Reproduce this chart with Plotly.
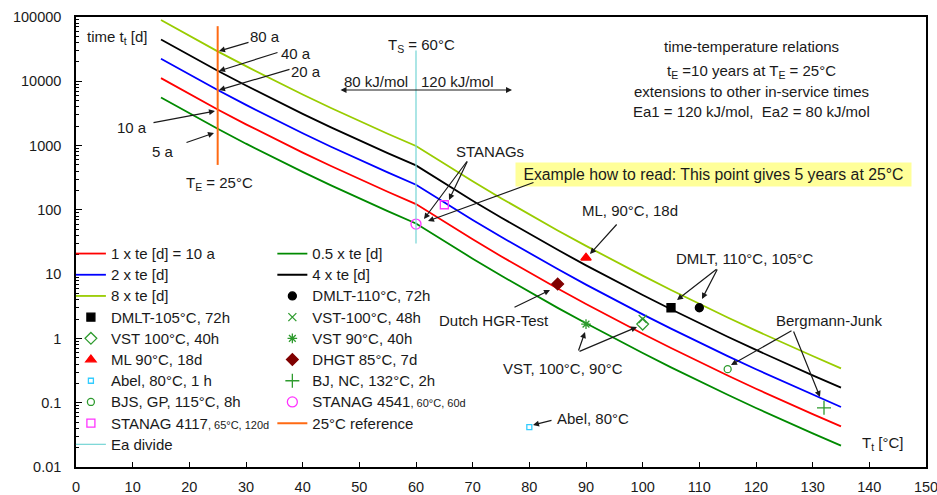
import math
import plotly.graph_objects as go

# ---------------- data ----------------
temps = [15, 20, 25, 30, 35, 40, 45, 50, 55, 60, 65, 70, 75, 80, 85,
         90, 95, 100, 105, 110, 115, 120, 125, 130, 135]
t_half = [5600, 3170, 1830, 1070, 640, 389, 240, 150, 95.5, 61.5, 32.4, 17.4, 9.5,
          5.3, 2.99, 1.72, 1.00, 0.592, 0.355, 0.216, 0.133, 0.0827, 0.0522, 0.0333, 0.0215]
t_1x = [11200, 6340, 3650, 2140, 1280, 778, 480, 301, 191, 123, 64.9, 34.8, 19.0,
        10.6, 5.98, 3.43, 2.00, 1.18, 0.710, 0.431, 0.265, 0.165, 0.104, 0.0666, 0.0429]
t_2x = [22400, 12700, 7300, 4290, 2560, 1556, 960, 602, 382, 246, 130, 69.6, 38.1,
        21.2, 12.0, 6.87, 4.00, 2.37, 1.42, 0.862, 0.531, 0.331, 0.209, 0.133, 0.0858]
t_4x = [44800, 25300, 14600, 8580, 5120, 3110, 1920, 1200, 764, 492, 259, 139, 76.1,
        42.3, 23.9, 13.7, 8.00, 4.73, 2.84, 1.72, 1.06, 0.662, 0.417, 0.266, 0.172]
t_8x = [89600, 50700, 29200, 17200, 10200, 6220, 3840, 2410, 1530, 984, 519, 278, 152,
        84.6, 47.8, 27.5, 16.0, 9.47, 5.68, 3.45, 2.12, 1.32, 0.834, 0.533, 0.343]

pt_names = ["DMLT-105°C, 72h", "DMLT-110°C, 72h", "VST-100°C, 48h", "VST 100°C, 40h",
            "VST 90°C, 40h", "ML 90°C, 18d", "DHGT 85°C, 7d", "Abel, 80°C, 1 h",
            "BJ, NC, 132°C, 2h", "BJS, GP, 115°C, 8h", "STANAG 4541", "STANAG 4117"]
pt_small = [None] * 10 + [", 60°C, 60d", ", 65°C, 120d"]
pt_T = [105, 110, 100, 100, 90, 90, 85, 80, 132, 115, 60, 65]
pt_t = [3, 3, 2, 1.67, 1.67, 18, 7, 0.0417, 0.0833, 0.333, 60, 120]

ref25_T = [25, 25]
ref25_t = [500, 72000]
ea_T = [60, 60]
ea_t = [30, 30000]

y_tickvals = [0.01, 0.1, 1, 10, 100, 1000, 10000, 100000]
y_ticktext = ["0.01", "0.1", "1", "10", "100", "1000", "10000", "100000"]
x_tickvals = list(range(0, 151, 10))

# ---------------- styling ----------------
FONT = "Liberation Sans, Arial, sans-serif"
W, H = 937, 495
ML, MR, MT, MB = 76, 11, 17, 28
PW, PH = W - ML - MR, H - MT - MB


def px(x):
    return (x - ML) / PW


def py(y):
    return (H - MB - y) / PH


def big(s):
    return "<span style='font-size:15px'>" + s + "</span>"


fig = go.Figure()

curves = [
    (t_1x, "1 x te [d] = 10 a", "#ff0000", "legend", 1),
    (t_2x, "2 x te [d]", "#0000ff", "legend", 2),
    (t_8x, "8 x te [d]", "#99cc00", "legend", 3),
    (t_half, "0.5 x te [d]", "#008a00", "legend2", 1),
    (t_4x, "4 x te [d]", "#000000", "legend2", 2),
]
for vals, name, col, lg, rank in curves:
    fig.add_trace(go.Scatter(x=temps, y=vals, mode="lines", name=big(name),
                             line=dict(color=col, width=1.8), legend=lg, legendrank=rank))

marker_styles = [
    ("square", "#000000", 8, "legend", 4),
    ("circle", "#000000", 8, "legend2", 3),
    ("x-thin-open", "#2e9b2e", 8, "legend2", 4),
    ("diamond-open", "#2e9b2e", 9, "legend", 5),
    ("asterisk-open", "#2e9b2e", 8, "legend2", 5),
    ("triangle-up", "#ff0000", 9, "legend", 6),
    ("diamond", "#800000", 9, "legend2", 6),
    ("square-open", "#33ccff", 5, "legend", 7),
    ("cross-thin-open", "#2e9b2e", 10, "legend2", 7),
    ("circle-open", "#2e9b2e", 7, "legend", 8),
    ("circle-open", "#ff33ff", 10, "legend2", 8),
    ("square-open", "#ff33ff", 8, "legend", 9),
]
for i, (sym, col, size, lg, rank) in enumerate(marker_styles):
    label = big(pt_names[i])
    if pt_small[i]:
        label += "<span style='font-size:11px'>" + pt_small[i] + "</span>"
    fig.add_trace(go.Scatter(
        x=[pt_T[i]], y=[pt_t[i]], mode="markers", name=label,
        marker=dict(symbol=sym, color=col, size=size, line=dict(color=col, width=1.3)),
        legend=lg, legendrank=rank))

fig.add_trace(go.Scatter(x=ref25_T, y=ref25_t, mode="lines", name=big("25°C reference"),
                         line=dict(color="#ff6a13", width=2), legend="legend2", legendrank=9))
fig.add_trace(go.Scatter(x=ea_T, y=ea_t, mode="lines", name=big("Ea divide"),
                         line=dict(color="#7fd8d8", width=1.3), legend="legend", legendrank=10))

# ---------------- annotations ----------------
ann = []


def text(x, y, t, size=15, **kw):
    ann.append(dict(x=px(x), y=py(y), xref="paper", yref="paper", text=t, showarrow=False,
                    font=dict(family=FONT, size=size, color="#1a1a1a"),
                    xanchor="center", yanchor="middle", **kw))


def arrow(tx, ty, hx, hy, side="end"):
    ann.append(dict(x=px(hx), y=py(hy), xref="paper", yref="paper", text="",
                    showarrow=True, ax=tx - hx, ay=ty - hy, arrowhead=2, arrowsize=1,
                    arrowwidth=1.2, arrowcolor="#1a1a1a", standoff=0, startstandoff=0,
                    arrowside=side, startarrowhead=2))


text(117, 38, "time t<sub>t</sub> [d]")
text(265, 36, "80 a")
text(296, 54, "40 a")
text(306, 71, "20 a")
text(132, 127, "10 a")
text(163, 151, "5 a")
text(219, 183, "T<sub>E</sub> = 25°C")
text(421, 46, "T<sub>S</sub> = 60°C")
text(376, 81, "80 kJ/mol")
text(457, 81, "120 kJ/mol")
text(751, 47, "time-temperature relations")
text(751, 71, "t<sub>E</sub> =10 years at T<sub>E</sub> = 25°C")
text(751, 92, "extensions to other in-service times")
text(751, 111, "Ea1 = 120 kJ/mol,  Ea2 = 80 kJ/mol")
text(490, 151, "STANAGs")
text(713, 174, "&nbsp;Example how to read: This point gives 5 years at 25°C&nbsp;", size=15.8,
     bgcolor="#ffff99", borderpad=3)
text(630, 210, "ML, 90°C, 18d")
text(744, 258, "DMLT, 110°C, 105°C")
text(494, 320, "Dutch HGR-Test")
text(563, 368, "VST, 100°C, 90°C")
text(829, 320, "Bergmann-Junk")
text(593, 418, "Abel, 80°C")
text(882, 443, "T<sub>t</sub> [°C]")

arrow(250, 42, 219, 51)
arrow(279, 52, 219, 71)
arrow(291, 69, 219, 90)
arrow(152, 123, 215, 111)
arrow(185, 143, 214, 133)
arrow(339, 90, 512, 90, side="end+start")
arrow(468, 160, 424, 219)
arrow(468, 160, 449, 200)
arrow(535, 182, 428, 221)
arrow(618, 223, 590, 254)
arrow(718, 268, 677, 300)
arrow(718, 268, 702, 299)
arrow(513, 308, 550, 290)
arrow(578, 352, 585, 332)
arrow(578, 352, 637, 327)
arrow(793, 330, 731, 365)
arrow(793, 330, 820, 397)
arrow(553, 420, 533, 425)

legend_common = dict(font=dict(family=FONT, size=14, color="#1a1a1a"), bgcolor="rgba(0,0,0,0)",
                     itemwidth=30, tracegroupgap=0, xanchor="left", yanchor="top",
                     traceorder="normal")

fig.update_layout(
    width=W, height=H,
    margin=dict(l=ML, r=MR, t=MT, b=MB, pad=0, autoexpand=False),
    paper_bgcolor="white", plot_bgcolor="white",
    font=dict(family=FONT, size=14, color="#1a1a1a"),
    showlegend=True,
    legend=dict(x=-0.006, y=0.509, **legend_common),
    legend2=dict(x=0.231, y=0.509, **legend_common),
    annotations=ann,
    xaxis=dict(range=[0, 150], tickvals=x_tickvals, ticks="inside", ticklen=5,
               tickcolor="black", showline=True, linecolor="black", linewidth=1.5,
               mirror=True, showgrid=False, zeroline=False, automargin=False,
               ticklabeloverflow="allow",
               tickfont=dict(family=FONT, size=14.5, color="#1a1a1a"), ticklabelstandoff=6),
    yaxis=dict(type="log", range=[-2, 5], tickvals=y_tickvals, ticktext=y_ticktext,
               ticks="inside", ticklen=6, tickcolor="black", showline=True,
               linecolor="black", linewidth=1.5, mirror=True, showgrid=False, zeroline=False,
               automargin=False, ticklabeloverflow="allow",
               minor=dict(ticks="inside", ticklen=3, dtick="D1", tickcolor="black",
                          showgrid=False),
               tickfont=dict(family=FONT, size=14.5, color="#1a1a1a"), ticklabelstandoff=10),
)

fig.write_html("out.html")
